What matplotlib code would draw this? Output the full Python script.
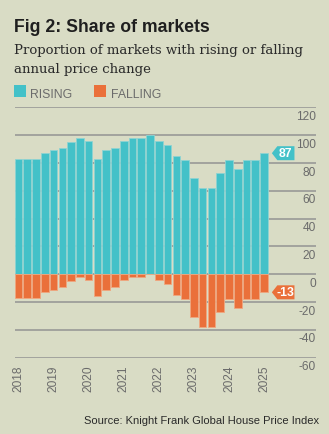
import matplotlib
matplotlib.use("Agg")
import matplotlib.pyplot as plt
import matplotlib.transforms as mtransforms
from matplotlib.patches import Polygon, Rectangle
import numpy as np

# ---- data ----
years = ["2018", "2019", "2020", "2021", "2022", "2023", "2024", "2025"]
rising = [83, 83, 83, 87, 89, 91, 95, 98, 96, 83, 89, 91, 96, 98, 98, 100,
          96, 93, 85, 82, 69, 62, 62, 73, 82, 76, 82, 82, 87]
falling = [-17, -17, -17, -13, -11, -9, -5, -2, -4, -16, -11, -9, -4, -2, -2, 0,
           -4, -7, -15, -18, -31, -38, -38, -27, -18, -24, -18, -18, -13]
yticks = [120, 100, 80, 60, 40, 20, 0, -20, -40, -60]

BG = "#D9DCC5"
TEAL = "#43C1C8"
ORANGE = "#EA703A"
GRID = "#9E9E9A"
GRAYTXT = "#6B6B6B"

W, H = 329, 435
fig = plt.figure(figsize=(W / 100, H / 100), dpi=100, facecolor=BG)
ax = fig.add_axes([14.7 / W, 1 - 358.7 / H, (316 - 14.7) / W, (358.7 - 108.3) / H])
ax.set_facecolor(BG)

bw = 0.87
x = np.arange(len(rising))
ax.set_xlim(-bw / 2, -bw / 2 + 34.36)
ax.set_ylim(-60, 120)

for v in yticks:
    ax.axhline(v, color=GRID, lw=1.3, zorder=1)

ax.bar(x, rising, width=bw, color=TEAL, edgecolor="#8ED3D3", linewidth=0.6, zorder=2)
ax.bar(x, falling, width=bw, color=ORANGE, edgecolor="#F0A77F", linewidth=0.6, zorder=2)

for s in ax.spines.values():
    s.set_visible(False)
ax.set_xticks([])
ax.set_yticks([])

font = "Liberation Sans"
# y tick labels below each gridline, right aligned
blend = mtransforms.blended_transform_factory(ax.transAxes, ax.transData)
for v in yticks:
    t = mtransforms.offset_copy(blend, fig=fig, x=0, y=-8.6, units="dots")
    ax.text(1.0, v, f"{v}", transform=t, ha="right", va="center",
            fontsize=8.6, color=GRAYTXT, family=font)

# year labels (rotated) under Q1 bars
for i, yr in enumerate(years):
    xi = i * 4
    t = mtransforms.offset_copy(ax.get_xaxis_transform(), fig=fig, x=0, y=-7, units="dots")
    ax.text(xi, 0, yr, transform=t, rotation=90, ha="center", va="top",
            fontsize=8.6, color=GRAYTXT, family=font)

# end tags
def tag(xv, yv, label, color):
    tr = fig.dpi_scale_trans + mtransforms.ScaledTranslation(xv, yv, ax.transData)
    off = 0.04
    d, w, h = 0.055, 0.226, 0.14
    verts = [(off, 0), (off + d, h / 2), (off + w, h / 2), (off + w, -h / 2), (off + d, -h / 2)]
    ax.add_patch(Polygon(verts, closed=True, transform=tr, facecolor=color,
                         edgecolor="none", clip_on=False, zorder=5))
    ax.text(off + d + (w - d) / 2 - 0.005, 0, label, transform=tr, ha="center", va="center",
            fontsize=8.8, color="white", fontweight="bold", family=font, zorder=6)

last = len(rising) - 1
tag(last + bw / 2, rising[-1], f"{rising[-1]}", TEAL)
tag(last + bw / 2, falling[-1], f"{falling[-1]}", ORANGE)

# titles
fig.text(14 / W, 1 - 32.3 / H, "Fig 2: Share of markets", ha="left", va="baseline",
         fontsize=12.7, fontweight="bold", color="#1F1F1F", family=font)
fig.text(14 / W, 1 - 54 / H, "Proportion of markets with rising or falling",
         ha="left", va="baseline", fontsize=9.5, color="#2A2A2A", family="DejaVu Serif")
fig.text(14 / W, 1 - 72.7 / H, "annual price change",
         ha="left", va="baseline", fontsize=9.5, color="#2A2A2A", family="DejaVu Serif")

# legend
fig.patches.append(Rectangle((14 / W, 1 - 98 / H), 12 / W, 12 / H, transform=fig.transFigure,
                             facecolor=TEAL, edgecolor="none"))
fig.text(30 / W, 1 - 98.3 / H, "RISING", ha="left", va="baseline", fontsize=8.8,
         color=GRAYTXT, family=font)
fig.patches.append(Rectangle((94.3 / W, 1 - 98 / H), 12 / W, 12 / H, transform=fig.transFigure,
                             facecolor=ORANGE, edgecolor="none"))
fig.text(110.7 / W, 1 - 98.3 / H, "FALLING", ha="left", va="baseline", fontsize=8.8,
         color=GRAYTXT, family=font)

# source
fig.text(319 / W, 1 - 424 / H, "Source: Knight Frank Global House Price Index",
         ha="right", va="baseline", fontsize=8.05, color="#2A2A2A", family=font)

fig.savefig("out.png", dpi=100, facecolor=BG)
